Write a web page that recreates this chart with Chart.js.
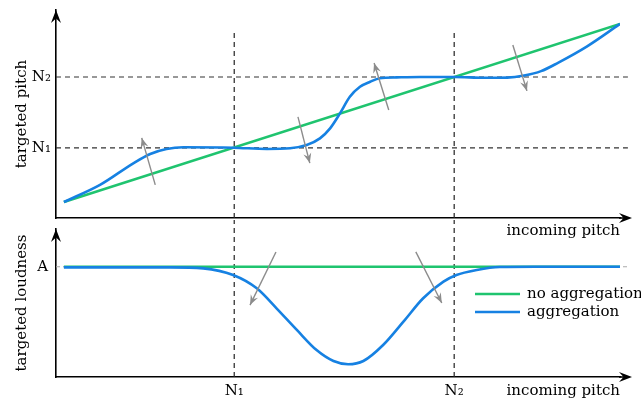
<!DOCTYPE html>
<html>
<head>
<meta charset="utf-8">
<script src="https://cdn.jsdelivr.net/npm/chart.js@4.4.0/dist/chart.umd.min.js"></script>
<style>
  html, body { margin: 0; padding: 0; background: #fff; }
  #wrap { position: relative; width: 641px; height: 399px; overflow: hidden; }
  canvas { position: absolute; left: 0; }
  #pitchChart { top: 0; }
  #loudChart { top: 220px; }
</style>
</head>
<body>
<div id="wrap">
  <canvas id="pitchChart" width="641" height="245"></canvas>
  <canvas id="loudChart" width="641" height="179"></canvas>
</div>
<script>
const seriesNames = ['no aggregation', 'aggregation'];
const seriesColors = ['#1fc46f', '#1681e2'];
const arrowColor = '#8c8c8c';

// tick positions (incoming pitch on x, targeted pitch / loudness on y)
const incomingTicks = [31.6, 70.6];
const incomingLabels = ['N₁', 'N₂'];
const pitchTicks = [33.7, 67.8];
const pitchLabels = ['N₁', 'N₂'];
const loudnessTicks = [74.5];
const loudnessLabels = ['A'];

// top panel: targeted pitch
const noAggPitchX = [1.4, 100];
const noAggPitchY = [7.7, 93.3];
const aggPitchX = [1.4, 7.8, 13.7, 16.7, 19.6, 22.6, 31.4, 37.4, 41.5, 44.45, 46.8, 48.6, 50.35, 52.1, 53.9, 55.7, 57.4, 60.4, 64.5, 70.6, 76, 80, 83, 86, 89, 94.1, 100];
const aggPitchY = [7.7, 15.9, 26.3, 30.8, 33.2, 34.0, 33.8, 33.2, 33.5, 35.1, 38.3, 43.1, 50.3, 58.3, 63.1, 65.5, 67.2, 67.6, 67.8, 67.8, 67.4, 67.5, 68.5, 70.6, 74.6, 82.4, 93.3];

// bottom panel: targeted loudness
const noAggLoudX = [1.4, 100];
const noAggLoudY = [74.5, 74.5];
const aggLoudX = [1.4, 12, 20.2, 26.1, 31.4, 35.6, 39.1, 42.7, 46.2, 49.2, 51.8, 54.5, 58, 61.6, 65.1, 68.7, 71, 74.6, 78.7, 85, 100.5];
const aggLoudY = [74.1, 74.1, 74.1, 73.4, 68.9, 59.9, 46.4, 31.8, 18.2, 10.8, 8.6, 10.8, 21.6, 37.4, 53.2, 64.4, 68.9, 72.3, 74.3, 74.5, 74.5];

// grey direction arrows: [x0, y0, x1 (head), y1 (head)]
const pitchArrows = [[17.6, 15.9, 15.2, 38.5], [42.9, 48.6, 45, 26.4], [59, 51.9, 56.4, 74.5], [81, 83.2, 83.5, 61.1]];
const loudArrows = [[39, 84.5, 34.4, 48.6], [63.8, 84.5, 68.4, 50]];

// extent of the dashed guide lines
const guideRight = 101.4;
const pitchGuideTop = 89.4;
const loudGuideTop = 106;

Chart.defaults.font.family = "'DejaVu Serif', serif";
Chart.defaults.font.size = 15;
Chart.defaults.color = '#000';

const xy = (xs, ys) => xs.map((x, i) => ({ x, y: ys[i] }));

function drawHead(ctx, x, y, ang, len, half, color) {
  ctx.save();
  ctx.translate(x, y);
  ctx.rotate(ang);
  ctx.fillStyle = color;
  ctx.beginPath();
  ctx.moveTo(0, 0);
  ctx.lineTo(-len, -half);
  ctx.lineTo(-len * 0.65, 0);
  ctx.lineTo(-len, half);
  ctx.closePath();
  ctx.fill();
  ctx.restore();
}

const arrowPlugin = {
  id: 'arrows',
  afterDraw(chart) {
    const ctx = chart.ctx, a = chart.chartArea;
    drawHead(ctx, a.left, a.top, -Math.PI / 2, 13, 5, '#000');
    ctx.save();
    ctx.strokeStyle = '#000';
    ctx.lineWidth = 1.6;
    ctx.beginPath();
    ctx.moveTo(a.right - 1, a.bottom);
    ctx.lineTo(a.right + 8, a.bottom);
    ctx.stroke();
    ctx.restore();
    drawHead(ctx, a.right + 12, a.bottom, 0, 13, 5, '#000');
    chart.data.datasets.forEach((ds, i) => {
      if (!ds.arrow) return;
      const pts = chart.getDatasetMeta(i).data;
      const p0 = pts[pts.length - 2], p1 = pts[pts.length - 1];
      drawHead(ctx, p1.x, p1.y, Math.atan2(p1.y - p0.y, p1.x - p0.x), 10, 4, ds.borderColor);
    });
  }
};

const legendPlugin = {
  id: 'panelLegend',
  afterDraw(chart, args, opts) {
    if (!opts.show) return;
    const ctx = chart.ctx, a = chart.chartArea;
    const items = chart.data.datasets.filter(d => d.inLegend);
    ctx.save();
    ctx.font = "15px 'DejaVu Serif', serif";
    ctx.textBaseline = 'middle';
    ctx.fillStyle = '#000';
    items.forEach((d, k) => {
      const y = a.top + opts.top + k * opts.gap;
      const x = a.right - opts.fromRight;
      ctx.strokeStyle = d.borderColor;
      ctx.lineWidth = 2.6;
      ctx.beginPath();
      ctx.moveTo(x, y);
      ctx.lineTo(x + 45, y);
      ctx.stroke();
      ctx.fillText(d.label, x + 52, y);
    });
    ctx.restore();
  }
};

function guide(points, color, dash) {
  return { data: points, borderColor: color, borderWidth: 1.2, borderDash: dash, pointRadius: 0, clip: false, order: 5, tension: 0 };
}
function arrowSet(a) {
  return { data: [{ x: a[0], y: a[1] }, { x: a[2], y: a[3] }], borderColor: arrowColor, borderWidth: 1.4, pointRadius: 0, arrow: true, order: 0, tension: 0 };
}
function noPadding(s) {
  s.paddingTop = 0; s.paddingBottom = 0; s.paddingLeft = 0; s.paddingRight = 0;
}

function axisScales(xOpts, yOpts, xHeight) {
  return {
    x: Object.assign({
      type: 'linear', min: 0, max: 100,
      grid: { display: false, drawTicks: false },
      border: { color: '#000', width: 1.6 },
      afterFit: s => { s.height = xHeight; noPadding(s); }
    }, xOpts),
    y: Object.assign({
      type: 'linear', min: 0, max: 100,
      grid: { display: false, drawTicks: false },
      border: { color: '#000', width: 1.6 },
      afterFit: s => { s.width = 56; noPadding(s); }
    }, yOpts)
  };
}

// ---- top panel ----
const pitchDatasets = [
  ...incomingTicks.map(v => guide([{ x: v, y: 0 }, { x: v, y: pitchGuideTop }], '#222', [5, 4])),
  ...pitchTicks.map(v => guide([{ x: 0, y: v }, { x: guideRight, y: v }], '#333', [5, 4])),
  { label: seriesNames[0], data: xy(noAggPitchX, noAggPitchY), borderColor: seriesColors[0], borderWidth: 2.6, pointRadius: 0, order: 2, tension: 0 },
  { label: seriesNames[1], data: xy(aggPitchX, aggPitchY), borderColor: seriesColors[1], borderWidth: 2.6, pointRadius: 0, order: 1, cubicInterpolationMode: 'monotone' },
  ...pitchArrows.map(arrowSet)
];

new Chart(document.getElementById('pitchChart'), {
  type: 'line',
  data: { datasets: pitchDatasets },
  options: {
    responsive: false,
    animation: false,
    events: [],
    layout: { padding: { top: 10, right: 21, left: 0, bottom: 0 } },
    plugins: { legend: { display: false }, tooltip: { enabled: false }, panelLegend: { show: false } },
    scales: axisScales(
      {
        ticks: { display: false },
        title: { display: true, text: 'incoming pitch', align: 'end', padding: { top: 0, bottom: 5 } }
      },
      {
        afterBuildTicks: s => { s.ticks = pitchTicks.map(v => ({ value: v })); },
        ticks: { padding: 5, autoSkip: false, callback: (v, i) => pitchLabels[i] },
        title: { display: true, text: 'targeted pitch', padding: { top: 13, bottom: 0 } }
      },
      27
    )
  },
  plugins: [arrowPlugin, legendPlugin]
});

// ---- bottom panel ----
const loudDatasets = [
  ...incomingTicks.map(v => guide([{ x: v, y: 0 }, { x: v, y: loudGuideTop }], '#222', [5, 4])),
  ...loudnessTicks.map(v => guide([{ x: 0, y: v }, { x: guideRight, y: v }], '#aaaaaa', [4, 3])),
  { label: seriesNames[0], inLegend: true, data: xy(noAggLoudX, noAggLoudY), borderColor: seriesColors[0], borderWidth: 2.6, pointRadius: 0, order: 2, tension: 0 },
  { label: seriesNames[1], inLegend: true, data: xy(aggLoudX, aggLoudY), borderColor: seriesColors[1], borderWidth: 2.6, pointRadius: 0, order: 1, cubicInterpolationMode: 'monotone' },
  ...loudArrows.map(arrowSet)
];

new Chart(document.getElementById('loudChart'), {
  type: 'line',
  data: { datasets: loudDatasets },
  options: {
    responsive: false,
    animation: false,
    events: [],
    layout: { padding: { top: 9, right: 21, left: 0, bottom: 0 } },
    plugins: {
      legend: { display: false }, tooltip: { enabled: false },
      panelLegend: { show: true, top: 65, gap: 18, fromRight: 145 }
    },
    scales: axisScales(
      {
        afterBuildTicks: s => { s.ticks = incomingTicks.map(v => ({ value: v })); },
        ticks: { padding: 5, autoSkip: false, maxRotation: 0, callback: (v, i) => incomingLabels[i] },
        title: { display: true, text: 'incoming pitch', align: 'end', padding: { top: 0, bottom: -1 } }
      },
      {
        afterBuildTicks: s => { s.ticks = loudnessTicks.map(v => ({ value: v })); },
        ticks: { padding: 8, autoSkip: false, callback: (v, i) => loudnessLabels[i] },
        title: { display: true, text: 'targeted loudness', padding: { top: 13, bottom: 0 } }
      },
      22
    )
  },
  plugins: [arrowPlugin, legendPlugin]
});
</script>
</body>
</html>
